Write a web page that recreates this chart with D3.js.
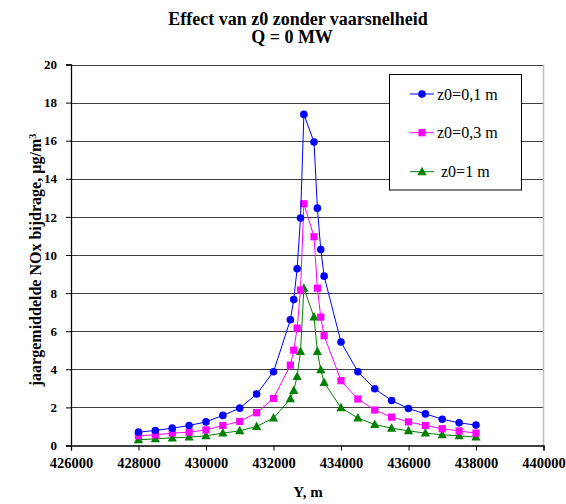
<!DOCTYPE html>
<html><head><meta charset="utf-8">
<script src="https://cdn.jsdelivr.net/npm/d3@7"></script>
<style>body{margin:0;background:#fff;}svg{display:block;}</style>
</head><body>
<script>
const xValues = [428000,428500,429000,429500,430000,430500,431000,431500,432000,432500,432600,432700,432800,432900,433200,433300,433400,433500,434000,434500,435000,435500,436000,436500,437000,437500,438000];
const z01 = [0.70,0.79,0.91,1.05,1.24,1.58,1.96,2.70,3.87,6.60,7.66,9.28,11.94,17.38,15.93,12.46,10.29,8.89,5.43,3.87,2.98,2.36,1.94,1.66,1.38,1.19,1.07];
const z03 = [0.51,0.56,0.65,0.70,0.82,1.05,1.26,1.72,2.47,4.22,5.00,6.16,8.16,12.69,10.96,8.26,6.74,5.76,3.40,2.44,1.86,1.49,1.24,1.05,0.88,0.76,0.65];
const z1  = [0.30,0.35,0.40,0.44,0.51,0.65,0.77,1.00,1.44,2.45,2.89,3.62,4.93,8.26,6.74,4.93,3.97,3.31,1.98,1.44,1.10,0.91,0.77,0.65,0.56,0.51,0.44];
const seriesNames = ["z0=0,1 m","z0=0,3 m","z0=1 m"];
const xTicks = [426000,428000,430000,432000,434000,436000,438000,440000];
const yTicks = [0,2,4,6,8,10,12,14,16,18,20];
const titleLines = ["Effect van z0 zonder vaarsnelheid","Q = 0 MW"];
const xTitle = "Y, m";

const FONT="Liberation Serif";
const W=566,H=504;
const L=71,R=543.5,T=64.5,B=445.5;
const svg=d3.select("body").append("svg").attr("width",W).attr("height",H).attr("font-family",FONT);
const x=d3.scaleLinear().domain([426000,440000]).range([L,R]);
const y=d3.scaleLinear().domain([0,20]).range([B,T]);

// gridlines
svg.append("g").selectAll("line").data(yTicks.filter(d=>d>0)).join("line")
  .attr("x1",L).attr("x2",R).attr("y1",d=>Math.round(y(d))+0.5).attr("y2",d=>Math.round(y(d))+0.5)
  .attr("stroke","#404040").attr("stroke-width",1);
// right border
svg.append("line").attr("x1",R).attr("x2",R).attr("y1",T).attr("y2",B).attr("stroke","#c0c0c0").attr("stroke-width",1.5);

// axes
const xAxis=svg.append("g").attr("transform",`translate(0,${B})`)
  .call(d3.axisBottom(x).tickValues(xTicks).tickFormat(d3.format("d")).tickSize(5).tickPadding(7));
const yAxis=svg.append("g").attr("transform",`translate(${L},0)`)
  .call(d3.axisLeft(y).tickValues(yTicks).tickFormat(d3.format("d")).tickSize(5).tickPadding(9));
[xAxis,yAxis].forEach(g=>{
  g.attr("font-family",FONT);
  g.select(".domain").attr("stroke","#000").attr("stroke-width",1.3);
  g.selectAll(".tick line").attr("stroke","#000");
  g.selectAll("text").attr("font-family",FONT).attr("font-weight","bold").attr("fill","#000");
});
xAxis.selectAll("text").attr("font-size",14.5);
yAxis.selectAll("text").attr("font-size",13);

const series=[
  {name:seriesNames[0],vals:z01,color:"#0000ff",shape:"circle"},
  {name:seriesNames[1],vals:z03,color:"#ff00ff",shape:"square"},
  {name:seriesNames[2],vals:z1,color:"#008000",shape:"triangle"}
];
const line=d3.line().x(d=>x(d[0])).y(d=>y(d[1]));
function marker(g,s,cx,cy){
  if(s.shape==="circle") g.append("circle").attr("cx",cx).attr("cy",cy).attr("r",3.8).attr("fill",s.color);
  else if(s.shape==="square") g.append("rect").attr("x",cx-3.6).attr("y",cy-3.6).attr("width",7.2).attr("height",7.2).attr("fill",s.color);
  else g.append("path").attr("d",`M${cx},${cy-5}L${cx+4.6},${cy+3.5}L${cx-4.6},${cy+3.5}Z`).attr("fill",s.color);
}
series.slice().reverse().forEach(s=>{
  const pts=xValues.map((xv,i)=>[xv,s.vals[i]]);
  const g=svg.append("g");
  g.append("path").attr("d",line(pts)).attr("fill","none").attr("stroke",s.color).attr("stroke-width",1);
  pts.forEach(p=>marker(g,s,x(p[0]),y(p[1])));
});

// legend
const lg=svg.append("g");
lg.append("rect").attr("x",389.5).attr("y",74.5).attr("width",132).attr("height",115.5).attr("fill","#fff").attr("stroke","#000").attr("stroke-width",1);
const ly=[94,132.7,171.7];
series.forEach((s,i)=>{
  lg.append("line").attr("x1",410).attr("x2",434).attr("y1",ly[i]).attr("y2",ly[i]).attr("stroke",s.color).attr("stroke-width",1);
  marker(lg,s,422,ly[i]);
  lg.append("text").attr("x",i===2?441:437).attr("y",ly[i]+5.5).attr("font-family",FONT).attr("font-size",16).attr("fill","#000").text(s.name);
});

// titles
svg.append("text").attr("x",298).attr("y",24.5).attr("text-anchor","middle").attr("font-family",FONT).attr("font-weight","bold").attr("font-size",18).text(titleLines[0]);
svg.append("text").attr("x",292).attr("y",43).attr("text-anchor","middle").attr("font-family",FONT).attr("font-weight","bold").attr("font-size",18).text(titleLines[1]);
svg.append("text").attr("x",308).attr("y",497).attr("text-anchor","middle").attr("font-family",FONT).attr("font-weight","bold").attr("font-size",15).text(xTitle);
const yt=svg.append("text").attr("transform","translate(41,260) rotate(-90)").attr("text-anchor","middle").attr("font-family",FONT).attr("font-weight","bold").attr("font-size",16);
yt.append("tspan").text("jaargemiddelde NOx bijdrage, µg/m");
yt.append("tspan").attr("baseline-shift","super").attr("font-size",10).text("3");
</script>
</body></html>
